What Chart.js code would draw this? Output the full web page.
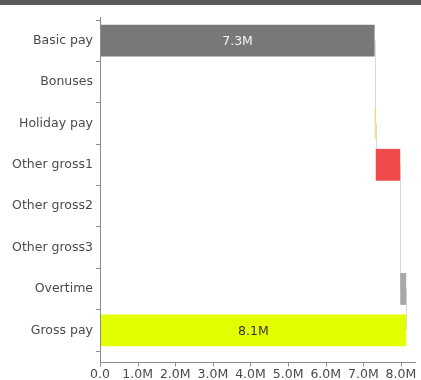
<!DOCTYPE html>
<html>
<head>
<meta charset="utf-8">
<script src="https://cdn.jsdelivr.net/npm/chart.js@4/dist/chart.umd.min.js"></script>
<style>
  html, body { margin: 0; padding: 0; background: #fff; }
  #wrap { position: relative; width: 421px; height: 380px; }
  #band { position: absolute; left: 0; top: 0; width: 421px; height: 5px; background: #595959; }
</style>
</head>
<body>
<div id="wrap">
  <canvas id="payChart" width="421" height="380"></canvas>
  <div id="band"></div>
</div>
<script>
const categories = [`Basic pay`, `Bonuses`, `Holiday pay`, `Other gross1`, `Other gross2`, `Other gross3`, `Overtime`, `Gross pay`]
const amounts = [7300000, 0, 30000, 650000, 0, 0, 160000, 8140000]
const isTotal = [false, false, false, false, false, false, false, true]
const xTickValues = [0, 1000000, 2000000, 3000000, 4000000, 5000000, 6000000, 7000000, 8000000]
const barColors = [`#787878`, `#787878`, `#f3df5c`, `#f04b4b`, `#787878`, `#787878`, `#a9a9a9`, `#e4ff00`]
const labelColors = [`#f2f2f2`, `#333`, `#333`, `#333`, `#333`, `#333`, `#333`, `#333`]

const fmtMoney = (v) => (v === 0 ? `0.0` : (v / 1e6).toFixed(1) + `M`)

// waterfall: each step floats from the running total, totals start at zero
let running = 0
const ranges = amounts.map((v, i) => {
  if (isTotal[i]) return [0, v]
  const r = [running, running + v]
  running += v
  return r
})

Chart.defaults.font.family = `"DejaVu Sans", Verdana, sans-serif`
Chart.defaults.font.size = 12.5
Chart.defaults.color = `#4a4a4a`

const axisColor = `#8c8c8c`

const chart = document.getElementById(`payChart`)

new Chart(chart, {
  type: `bar`,
  data: {
    labels: categories,
    datasets: [
      {
        label: `Gross pay`,
        data: ranges,
        backgroundColor: barColors,
        borderWidth: 0,
        barPercentage: 0.77,
        categoryPercentage: 1,
      },
    ],
  },
  options: {
    indexAxis: `y`,
    responsive: false,
    animation: false,
    layout: {
      padding: { top: 20, right: 5, left: 0, bottom: 0 },
    },
    plugins: {
      legend: { display: false },
      tooltip: { enabled: false },
    },
    scales: {
      x: {
        min: 0,
        max: 8400000,
        border: { display: false },
        grid: { drawOnChartArea: false, drawTicks: false },
        afterBuildTicks: (scale) => {
          scale.ticks = xTickValues.map((v) => ({ value: v }))
        },
        afterFit: (scale) => {
          scale.paddingRight = 0
          scale.height = 29
        },
        ticks: {
          autoSkip: false,
          maxRotation: 0,
          padding: 17,
          font: { lineHeight: 1 },
          callback: (v) => fmtMoney(v),
        },
      },
      y: {
        border: { color: axisColor },
        grid: { offset: true, drawOnChartArea: false, tickLength: 4, color: axisColor },
        ticks: { padding: 3 },
        afterFit: (scale) => {
          scale.width = 100
        },
      },
    },
  },
  plugins: [
    {
      id: `connectors`,
      beforeDatasetsDraw: function (chart) {
        const ctx = chart.ctx
        const bars = chart.getDatasetMeta(0).data
        const x = chart.scales.x
        ctx.save()
        ctx.strokeStyle = `#d9d9d9`
        ctx.lineWidth = 1
        for (let i = 0; i < bars.length - 1; i++) {
          const px = Math.round(x.getPixelForValue(ranges[i][1])) + 0.5
          ctx.beginPath()
          ctx.moveTo(px, bars[i].y)
          ctx.lineTo(px, bars[i + 1].y)
          ctx.stroke()
        }
        ctx.restore()
      },
    },
    {
      id: `barLabels`,
      afterDatasetsDraw: function (chart) {
        const ctx = chart.ctx
        const bars = chart.getDatasetMeta(0).data
        ctx.save()
        ctx.font = `12.5px "DejaVu Sans", Verdana, sans-serif`
        ctx.textAlign = `center`
        ctx.textBaseline = `middle`
        bars.forEach((bar, i) => {
          if (Math.abs(bar.x - bar.base) < 60) return
          ctx.fillStyle = labelColors[i]
          ctx.fillText(fmtMoney(amounts[i]), (bar.x + bar.base) / 2, bar.y + 1)
        })
        ctx.restore()
      },
    },
    {
      id: `axisLines`,
      afterDraw: function (chart) {
        const ctx = chart.ctx
        const a = chart.chartArea
        const x = chart.scales.x
        const lineY = Math.round(a.bottom + 11) + 0.5
        const left = Math.round(a.left) + 0.5
        ctx.save()
        ctx.strokeStyle = axisColor
        ctx.lineWidth = 1
        ctx.beginPath()
        ctx.moveTo(left, a.top - 3)
        ctx.lineTo(left, lineY)
        ctx.lineTo(a.right, lineY)
        x.ticks.forEach((t) => {
          const px = Math.round(x.getPixelForValue(t.value)) + 0.5
          ctx.moveTo(px, lineY)
          ctx.lineTo(px, lineY + 4)
        })
        ctx.stroke()
        ctx.restore()
      },
    },
  ],
})
</script>
</body>
</html>
